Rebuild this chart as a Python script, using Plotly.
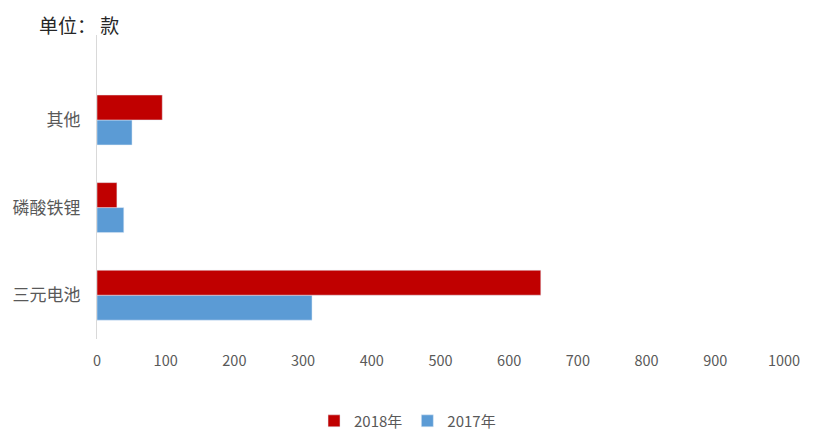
import plotly.graph_objects as go

categories = ["三元电池", "磷酸铁锂", "其他"]
values_2017 = [313, 39, 51]
values_2018 = [646, 29, 95]
x_ticks = [0, 100, 200, 300, 400, 500, 600, 700, 800, 900, 1000]

FONT = "Noto Sans CJK SC"

fig = go.Figure()
fig.add_trace(go.Bar(
    y=categories, x=values_2017, orientation="h", name="2017年",
    marker=dict(color="#5B9BD5"), legendrank=2,
))
fig.add_trace(go.Bar(
    y=categories, x=values_2018, orientation="h", name="2018年",
    marker=dict(color="#C00000"), legendrank=1,
))

fig.update_layout(
    width=805, height=423,
    margin=dict(l=89, r=29, t=27, b=92, autoexpand=False),
    paper_bgcolor="white", plot_bgcolor="white",
    barmode="group", bargap=0.43, bargroupgap=0,
    font=dict(family=FONT, color="#595959", size=14),
    showlegend=True,
    legend=dict(orientation="h", x=0.452, xanchor="center", y=-0.27, yanchor="middle",
                font=dict(size=15, color="#595959"), itemwidth=30),
    xaxis=dict(range=[0, 1000], tickvals=x_ticks, showgrid=False, zeroline=False,
               showline=False, ticks="", ticklabelstandoff=11, automargin=False,
               tickfont=dict(size=14.5, color="#595959")),
    yaxis=dict(range=[-0.5, 2.97], showgrid=False, zeroline=False,
               showline=True, linecolor="#D9D9D9", linewidth=1, ticks="",
               ticklabelstandoff=12, automargin=False,
               tickfont=dict(size=17, color="#595959")),
    annotations=[dict(text="单位： 款", xref="paper", yref="paper", x=-0.087, y=1.035,
                      xanchor="left", yanchor="middle", showarrow=False,
                      font=dict(size=19, color="#262626", family=FONT))],
)

fig.write_html("out.html")
